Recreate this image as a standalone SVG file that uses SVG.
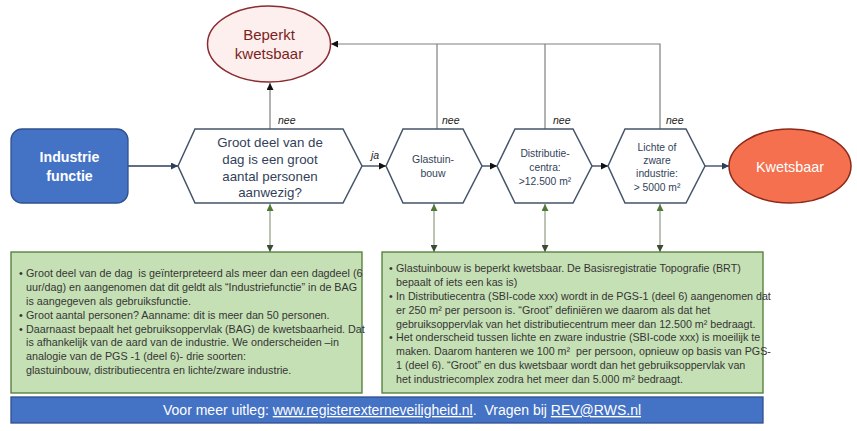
<svg xmlns="http://www.w3.org/2000/svg" width="857" height="431" viewBox="0 0 857 431">
<defs>
<style>
.hex{fill:#fff;stroke:#44546a;stroke-width:1.5}
.ht{font-family:"Liberation Sans",Arial,sans-serif;fill:#333f5a;text-anchor:middle}
.lbl{font-family:"Liberation Sans",Arial,sans-serif;font-style:italic;font-size:10.5px;fill:#222}
.gray{stroke:#7f7f7f;stroke-width:1.2;fill:none}
.flow{stroke:#2f3e5c;stroke-width:1.3;fill:none}
.grn{stroke:#8f9a84;stroke-width:1.2;fill:none}
.box{fill:#c5e0b4;stroke:#4f7a35;stroke-width:1.3}
.bt{font-family:"Liberation Sans",Arial,sans-serif;font-size:10.75px;fill:#353535}
.br{font-family:"Liberation Sans",Arial,sans-serif;font-size:10.7px;fill:#353535}
</style>
<marker id="ab" viewBox="0 0 10 10" refX="10" refY="5" markerWidth="7" markerHeight="7" markerUnits="userSpaceOnUse" orient="auto"><path d="M0,0 L10,5 L0,10 z" fill="#111"/></marker>
<marker id="an" viewBox="0 0 10 10" refX="10" refY="5" markerWidth="7" markerHeight="7" markerUnits="userSpaceOnUse" orient="auto"><path d="M0,0 L10,5 L0,10 z" fill="#2f3e5c"/></marker>
<marker id="ag" viewBox="0 0 10 10" refX="10" refY="5" markerWidth="7" markerHeight="7" markerUnits="userSpaceOnUse" orient="auto"><path d="M0,0 L10,5 L0,10 z" fill="#4f7a35"/></marker>
<marker id="ad" viewBox="0 0 10 10" refX="10" refY="5" markerWidth="7" markerHeight="7" markerUnits="userSpaceOnUse" orient="auto"><path d="M0,0 L10,5 L0,10 z" fill="#3d4a36"/></marker>
</defs>

<g id="connectors">
<path class="gray" d="M270,129 V83" marker-end="url(#ab)"/>
<path class="gray" d="M660,129 V44 H331" marker-end="url(#ab)"/>
<path class="gray" d="M437,129 V44"/>
<path class="gray" d="M545,129 V44"/>
<path class="flow" d="M128,166 H178" marker-end="url(#an)"/>
<path class="flow" d="M362,166 H386" marker-end="url(#ab)"/>
<path class="flow" d="M482,166 H497" marker-end="url(#ab)"/>
<path class="flow" d="M592,166 H608" marker-end="url(#ab)"/>
<path class="flow" d="M705,166 H729" marker-end="url(#an)"/>
<path class="grn" d="M270,228 V204" marker-end="url(#ag)"/>
<path class="grn" d="M270,228 V252" marker-end="url(#ad)"/>
<path class="grn" d="M434,228 V204" marker-end="url(#ag)"/>
<path class="grn" d="M434,228 V252" marker-end="url(#ad)"/>
<path class="grn" d="M545,228 V204" marker-end="url(#ag)"/>
<path class="grn" d="M545,228 V252" marker-end="url(#ad)"/>
<path class="grn" d="M660,228 V204" marker-end="url(#ag)"/>
<path class="grn" d="M660,228 V252" marker-end="url(#ad)"/>
<text class="lbl" x="278" y="124">nee</text>
<text class="lbl" x="442" y="124">nee</text>
<text class="lbl" x="553" y="124">nee</text>
<text class="lbl" x="666" y="124">nee</text>
<text class="lbl" x="371" y="159">ja</text>
</g>

<g id="beperkt">
<ellipse cx="269" cy="44" rx="61.5" ry="38" fill="#fcefee" stroke="#8b2a2f" stroke-width="1.5"/>
<text x="269" y="40" font-family="Liberation Sans,Arial,sans-serif" font-size="15" fill="#7b1f22" text-anchor="middle">Beperkt</text>
<text x="269" y="59" font-family="Liberation Sans,Arial,sans-serif" font-size="15" fill="#7b1f22" text-anchor="middle">kwetsbaar</text>
</g>

<g id="industrie">
<rect x="11" y="129" width="117" height="74" rx="11" fill="#4472c4" stroke="#2f528f" stroke-width="1.3"/>
<text x="69.5" y="162" font-family="Liberation Sans,Arial,sans-serif" font-size="14.2" font-weight="bold" fill="#fff" text-anchor="middle">Industrie</text>
<text x="69.5" y="181" font-family="Liberation Sans,Arial,sans-serif" font-size="14.2" font-weight="bold" fill="#fff" text-anchor="middle">functie</text>
</g>

<g id="vraag">
<polygon class="hex" points="178,166 195,129 343,129 362,166 343,203 195,203"/>
<text class="ht" font-size="13.3" x="270" y="147">Groot deel van de</text>
<text class="ht" font-size="13.3" x="270" y="164">dag is een groot</text>
<text class="ht" font-size="13.3" x="270" y="181">aantal personen</text>
<text class="ht" font-size="13.3" x="270" y="197">aanwezig?</text>
</g>

<g id="glastuinbouw">
<polygon class="hex" points="386,166 403,129 463,129 482,166 463,203 403,203"/>
<text class="ht" font-size="10.5" x="433" y="163">Glastuin-</text>
<text class="ht" font-size="10.5" x="433" y="177">bouw</text>
</g>

<g id="distributie">
<polygon class="hex" points="497,166 515,129 573,129 592,166 573,203 515,203"/>
<text class="ht" font-size="10.3" x="545" y="157">Distributie-</text>
<text class="ht" font-size="10.3" x="545" y="171">centra:</text>
<text class="ht" font-size="10.3" x="545" y="185">&gt;12.500 m²</text>
</g>

<g id="industrietype">
<polygon class="hex" points="608,166 625,129 686,129 705,166 686,203 625,203"/>
<text class="ht" font-size="10.3" x="657" y="151">Lichte of</text>
<text class="ht" font-size="10.3" x="657" y="164">zware</text>
<text class="ht" font-size="10.3" x="657" y="177">industrie:</text>
<text class="ht" font-size="10.3" x="657" y="191">&gt; 5000 m²</text>
</g>

<g id="kwetsbaar">
<ellipse cx="790" cy="166" rx="61" ry="37" fill="#f4704e" stroke="#8b2a1a" stroke-width="1.5"/>
<text x="790" y="171.5" font-family="Liberation Sans,Arial,sans-serif" font-size="14.4" fill="#fff" text-anchor="middle">Kwetsbaar</text>
</g>

<g id="uitleg-links">
<rect class="box" x="11" y="252" width="351" height="141"/>
<text class="bt" x="19" y="277">•</text><text class="bt" x="26" y="277" xml:space="preserve">Groot deel van de dag  is geïnterpreteerd als meer dan een dagdeel (6</text>
<text class="bt" x="26" y="291">uur/dag) en aangenomen dat dit geldt als “Industriefunctie” in de BAG</text>
<text class="bt" x="26" y="305">is aangegeven als gebruiksfunctie.</text>
<text class="bt" x="19" y="318.5">•</text><text class="bt" x="26" y="318.5">Groot aantal personen? Aanname: dit is meer dan 50 personen.</text>
<text class="bt" x="19" y="332.5">•</text><text class="bt" x="26" y="332.5">Daarnaast bepaalt het gebruiksoppervlak (BAG) de kwetsbaarheid. Dat</text>
<text class="bt" x="26" y="346">is afhankelijk van de aard van de industrie. We onderscheiden –in</text>
<text class="bt" x="26" y="360">analogie van de PGS -1 (deel 6)- drie soorten:</text>
<text class="bt" x="26" y="374">glastuinbouw, distributiecentra en lichte/zware industrie.</text>
</g>

<g id="uitleg-rechts">
<rect class="box" x="382" y="252" width="381" height="141"/>
<text class="br" x="389" y="272">•</text><text class="br" x="396" y="272">Glastuinbouw is beperkt kwetsbaar. De Basisregistratie Topografie (BRT)</text>
<text class="br" x="396" y="286">bepaalt of iets een kas is)</text>
<text class="br" x="389" y="300">•</text><text class="br" x="396" y="300">In Distributiecentra (SBI-code xxx) wordt in de PGS-1 (deel 6) aangenomen dat</text>
<text class="br" x="396" y="313.5">er 250 m² per persoon is. “Groot” definiëren we daarom als dat het</text>
<text class="br" x="396" y="327.5">gebruiksoppervlak van het distributiecentrum meer dan 12.500 m² bedraagt.</text>
<text class="br" x="389" y="341">•</text><text class="br" x="396" y="341">Het onderscheid tussen lichte en zware industrie (SBI-code xxx) is moeilijk te</text>
<text class="br" x="396" y="355" xml:space="preserve">maken. Daarom hanteren we 100 m²  per persoon, opnieuw op basis van PGS-</text>
<text class="br" x="396" y="369">1 (deel 6). “Groot” en dus kwetsbaar wordt dan het gebruiksoppervlak van</text>
<text class="br" x="396" y="382.5">het industriecomplex zodra het meer dan 5.000 m² bedraagt.</text>
</g>

<g id="voet">
<rect x="11" y="397" width="752" height="26" fill="#4472c4" stroke="#2f4f8f" stroke-width="1.3"/>
<text x="163" y="415" font-family="Liberation Sans,Arial,sans-serif" font-size="14" fill="#fff" xml:space="preserve">Voor meer uitleg: <tspan text-decoration="underline">www.registerexterneveiligheid.nl</tspan>.  Vragen bij <tspan text-decoration="underline">REV@RWS.nl</tspan></text>
</g>
</svg>
